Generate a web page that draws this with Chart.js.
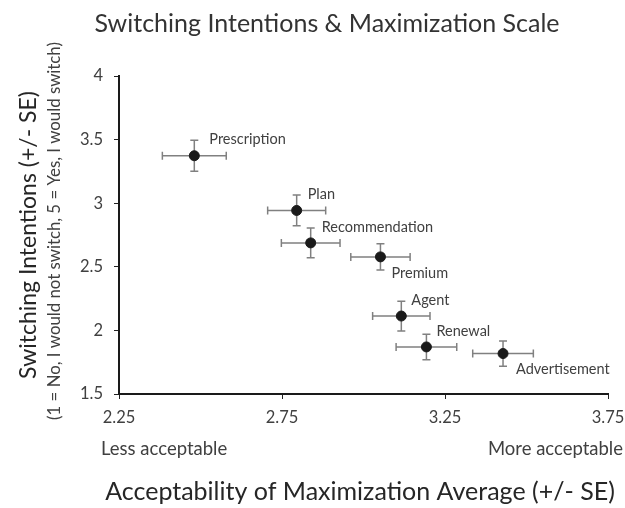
<!DOCTYPE html>
<html>
<head>
<meta charset="utf-8">
<script src="https://cdn.jsdelivr.net/npm/chart.js@4"></script>
<style>
  body { margin: 0; background: #fff; }
</style>
</head>
<body>
<canvas id="switchChart" width="625" height="508"></canvas>
<script>
// Data
const names = ['Prescription', 'Plan', 'Recommendation', 'Premium', 'Agent', 'Renewal', 'Advertisement'];
const acceptability = [2.481, 2.795, 2.838, 3.052, 3.116, 3.193, 3.428];
const acceptabilitySE = [0.098, 0.089, 0.090, 0.091, 0.088, 0.093, 0.093];
const switching = [3.373, 2.943, 2.688, 2.578, 2.113, 1.870, 1.818];
const switchingSE = [0.121, 0.121, 0.117, 0.103, 0.117, 0.100, 0.099];
const xTickValues = [2.25, 2.75, 3.25, 3.75];
const yTickValues = [1.5, 2, 2.5, 3, 3.5, 4];

// label placement next to each point (style, not data)
const labelSide = ['above', 'above', 'above', 'below', 'above', 'above', 'below'];
const labelDx = [15, 11, 11, 11, 10, 10, 13];

const FONT = 'Lato, "Open Sans", sans-serif';
const TEXT = '#404040';

// error bars drawn with the chart's own scales
const errorBars = {
    id: 'errorBars',
    beforeDatasetsDraw(chart) {
        const { ctx, scales: { x, y } } = chart;
        ctx.save();
        ctx.strokeStyle = '#808080';
        ctx.lineWidth = 1.5;
        const cap = 4;
        acceptability.forEach((xv, i) => {
            const px = x.getPixelForValue(xv);
            const py = y.getPixelForValue(switching[i]);
            const x0 = x.getPixelForValue(xv - acceptabilitySE[i]);
            const x1 = x.getPixelForValue(xv + acceptabilitySE[i]);
            const y0 = y.getPixelForValue(switching[i] - switchingSE[i]);
            const y1 = y.getPixelForValue(switching[i] + switchingSE[i]);
            ctx.beginPath();
            ctx.moveTo(x0, py); ctx.lineTo(x1, py);
            ctx.moveTo(x0, py - cap); ctx.lineTo(x0, py + cap);
            ctx.moveTo(x1, py - cap); ctx.lineTo(x1, py + cap);
            ctx.moveTo(px, y0); ctx.lineTo(px, y1);
            ctx.moveTo(px - cap, y0); ctx.lineTo(px + cap, y0);
            ctx.moveTo(px - cap, y1); ctx.lineTo(px + cap, y1);
            ctx.stroke();
        });
        ctx.restore();
    }
};

// title, point labels and axis texts
const chartTexts = {
    id: 'chartTexts',
    afterDraw(chart) {
        const { ctx, scales: { x, y } } = chart;
        ctx.save();
        ctx.textBaseline = 'middle';

        ctx.textAlign = 'center';
        ctx.fillStyle = '#333';
        ctx.font = '25px ' + FONT;
        ctx.fillText('Switching Intentions & Maximization Scale', 327, 24);

        ctx.fillStyle = TEXT;
        ctx.font = '14.5px ' + FONT;
        ctx.textAlign = 'left';
        names.forEach((name, i) => {
            const px = x.getPixelForValue(acceptability[i]) + labelDx[i];
            const py = y.getPixelForValue(switching[i]) + (labelSide[i] === 'above' ? -16 : 16);
            ctx.fillText(name, px, py);
        });

        // low / high hints under the x axis
        ctx.font = '18.5px ' + FONT;
        ctx.fillText('Less acceptable', 101, 449);
        ctx.textAlign = 'right';
        ctx.fillText('More acceptable', 623, 449);

        // x axis title
        ctx.textAlign = 'center';
        ctx.font = '25px ' + FONT;
        ctx.fillStyle = '#262626';
        ctx.fillText('Acceptability of Maximization Average (+/- SE)', 360, 492);

        // y axis titles
        ctx.save();
        ctx.translate(29, 235);
        ctx.rotate(-Math.PI / 2);
        ctx.font = '23px ' + FONT;
        ctx.fillText('Switching Intentions (+/- SE)', 0, 0);
        ctx.restore();
        ctx.save();
        ctx.translate(55, 231);
        ctx.rotate(-Math.PI / 2);
        ctx.font = '16.8px ' + FONT;
        ctx.fillStyle = TEXT;
        ctx.fillText('(1 = No, I would not switch, 5 = Yes, I would switch)', 0, 0);
        ctx.restore();
        ctx.restore();
    }
};

const ctx = document.getElementById('switchChart').getContext('2d');
new Chart(ctx, {
    type: 'scatter',
    data: {
        datasets: [{
            label: 'Switching intentions',
            data: acceptability.map((v, i) => ({ x: v, y: switching[i] })),
            backgroundColor: '#1a1a1a',
            borderColor: '#1a1a1a',
            pointRadius: 5,
            pointHoverRadius: 5
        }]
    },
    options: {
        responsive: false,
        animation: false,
        layout: { padding: { left: 0, right: 17, top: 76, bottom: 0 } },
        plugins: {
            legend: { display: false },
            tooltip: { enabled: false },
            title: { display: false }
        },
        scales: {
            x: {
                type: 'linear',
                min: 2.25,
                max: 3.75,
                afterBuildTicks: scale => { scale.ticks = xTickValues.map(v => ({ value: v })); },
                ticks: {
                    callback: v => v.toFixed(2),
                    color: TEXT,
                    font: { family: FONT, size: 16.5 },
                    padding: 9,
                    maxRotation: 0
                },
                grid: { drawOnChartArea: false, drawTicks: true, tickLength: 5, color: '#222' },
                border: { color: '#1a1a1a', width: 2 },
                afterFit: scale => {
                    scale.height = 114;
                    scale.paddingLeft = 0;
                    scale.paddingRight = 0;
                }
            },
            y: {
                min: 1.5,
                max: 4,
                afterBuildTicks: scale => { scale.ticks = yTickValues.map(v => ({ value: v })); },
                ticks: {
                    callback: v => String(v),
                    color: TEXT,
                    font: { family: FONT, size: 16.5 },
                    padding: 11
                },
                grid: { drawOnChartArea: false, drawTicks: true, tickLength: 5, color: '#222' },
                border: { color: '#1a1a1a', width: 2 },
                afterFit: scale => {
                    scale.width = 119;
                    scale.paddingTop = 0;
                    scale.paddingBottom = 0;
                }
            }
        }
    },
    plugins: [errorBars, chartTexts]
});
</script>
</body>
</html>
